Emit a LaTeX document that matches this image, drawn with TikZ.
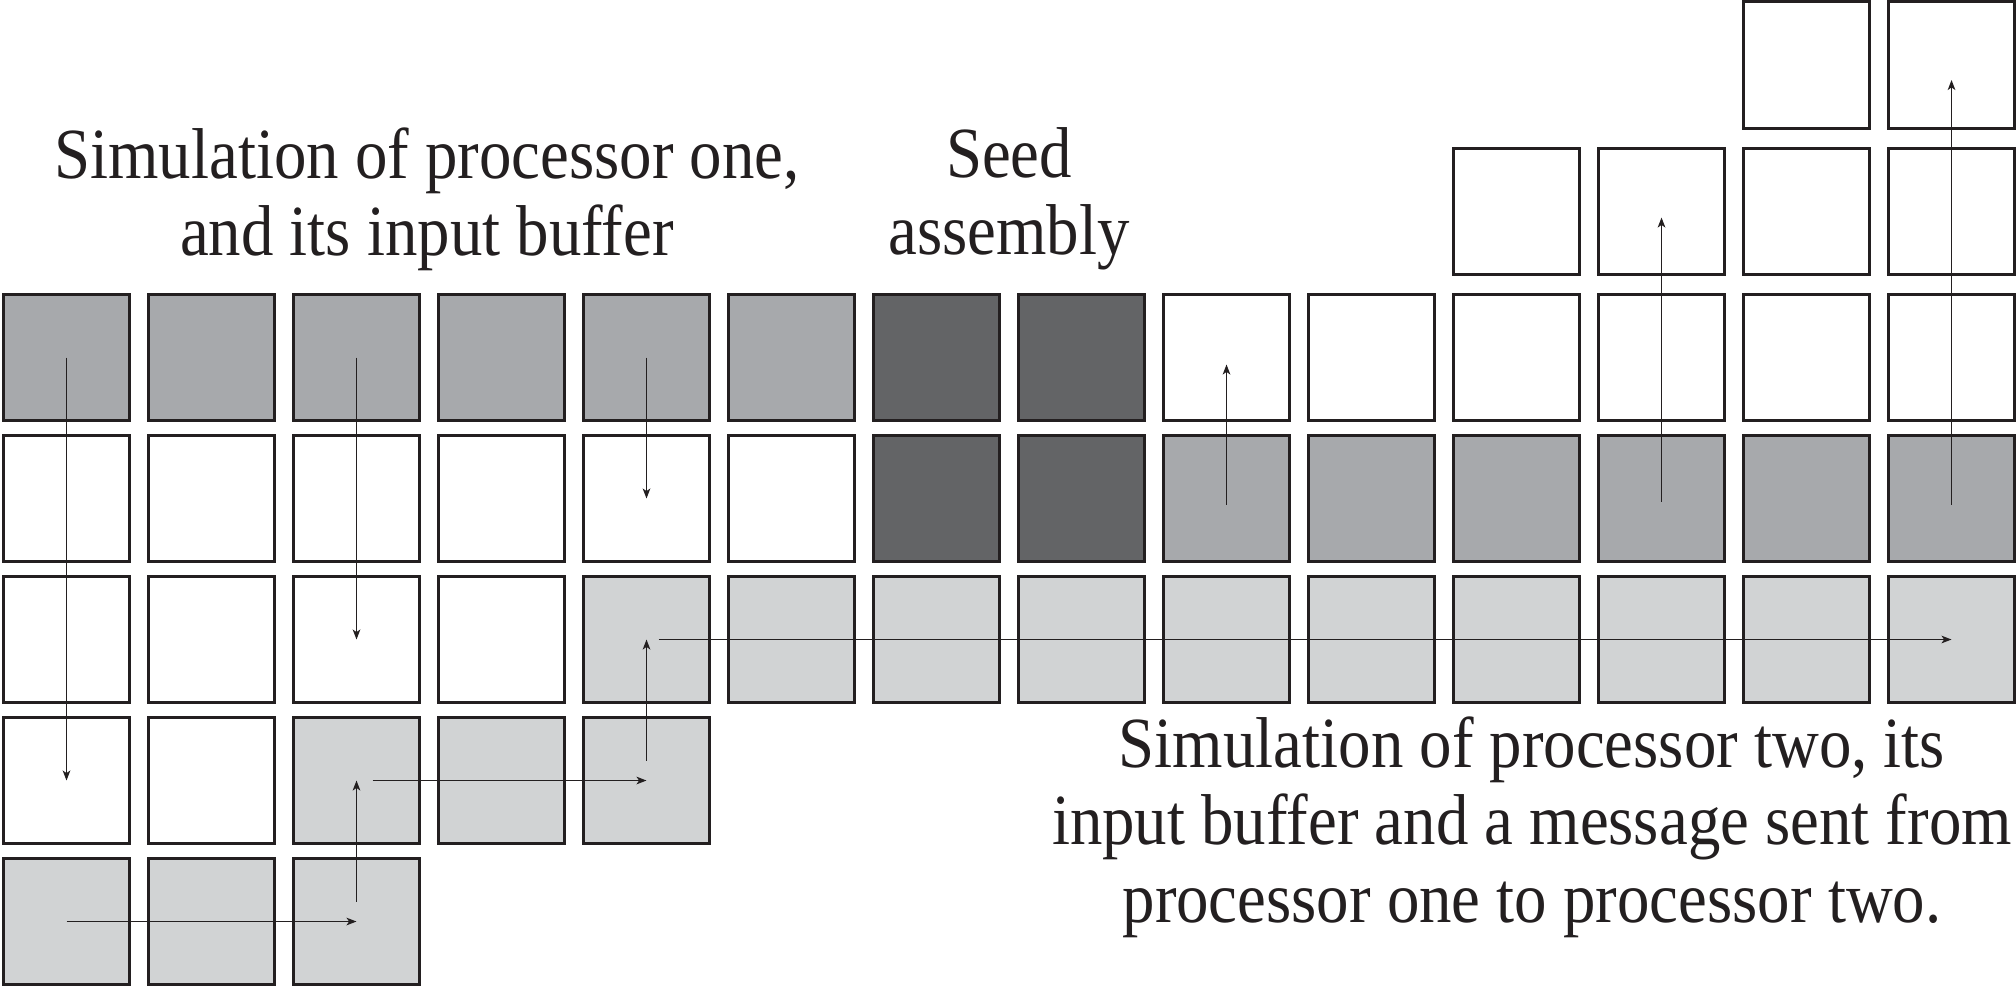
\documentclass[tikz,border=0pt]{standalone}
\usepackage{fontspec}
\setmainfont{Liberation Serif}[FakeStretch=0.9]
\usetikzlibrary{arrows.meta}

\definecolor{simgray}{RGB}{167,169,172}
\definecolor{msggray}{RGB}{209,211,212}
\definecolor{seedgray}{RGB}{99,100,102}
\definecolor{edge}{RGB}{35,31,32}

\tikzset{
  tile/.style={draw=edge, line width=1.35pt, minimum size=63.2pt, inner sep=0pt, fill=white},
  simtile/.style={tile, fill=simgray},
  seedtile/.style={tile, fill=seedgray},
  msgtile/.style={tile, fill=msggray},
  hop/.style={draw=edge, line width=0.7pt, -{Stealth[length=5pt,width=3.8pt,inset=1.3pt]}},
  note/.style={font=\fontsize{36pt}{38.75pt}\selectfont, text=edge, align=center, inner sep=0pt, anchor=north}
}

\begin{document}
\begin{tikzpicture}[x=0.5pt,y=0.5pt,yscale=-1]
\useasboundingbox (0,0) rectangle (2016,987);

% row a and b: empty tiles on the right
\foreach \i in {12,13} \node[tile] (a\i) at ({66.5+145*\i},65) {};
\foreach \i in {10,...,13} \node[tile] (b\i) at ({66.5+145*\i},211.5) {};

% row c: processor one, seed, empty
\foreach \i in {0,...,5} \node[simtile] (c\i) at ({66.5+145*\i},357.5) {};
\foreach \i in {6,7} \node[seedtile] (c\i) at ({66.5+145*\i},357.5) {};
\foreach \i in {8,...,13} \node[tile] (c\i) at ({66.5+145*\i},357.5) {};

% row d: empty, seed, processor two
\foreach \i in {0,...,5} \node[tile] (d\i) at ({66.5+145*\i},498.5) {};
\foreach \i in {6,7} \node[seedtile] (d\i) at ({66.5+145*\i},498.5) {};
\foreach \i in {8,...,13} \node[simtile] (d\i) at ({66.5+145*\i},498.5) {};

% row e, f, g: buffer and message
\foreach \i in {0,...,3} \node[tile] (e\i) at ({66.5+145*\i},639.5) {};
\foreach \i in {4,...,13} \node[msgtile] (e\i) at ({66.5+145*\i},639.5) {};
\foreach \i in {0,1} \node[tile] (f\i) at ({66.5+145*\i},780.5) {};
\foreach \i in {2,...,4} \node[msgtile] (f\i) at ({66.5+145*\i},780.5) {};
\foreach \i in {0,...,2} \node[msgtile] (g\i) at ({66.5+145*\i},921.5) {};

% processor one
\draw[hop] (c0.center) -- (f0.center);
\draw[hop] (c2.center) -- (e2.center);
\draw[hop] (c4.center) -- (d4.center);

% message path
\draw[hop] (g0.center) -- (g2.center);
\draw[hop, shorten <=10pt] (g2.center) -- (f2.center);
\draw[hop, shorten <=8pt] (f2.center) -- (f4.center);
\draw[hop, shorten <=10pt] (f4.center) -- (e4.center);
\draw[hop, shorten <=6pt] (e4.center) -- (e13.center);

% processor two
\draw[hop, shorten <=-3pt, shorten >=3.5pt] (d8.center) -- (c8.center);
\draw[hop, shorten <=-1.5pt, shorten >=3pt] (d11.center) -- (b11.center);
\draw[hop, shorten <=-3pt, shorten >=7.5pt] (d13.center) -- (a13.center);

% captions
\node[note] (one) at (427,127) {Simulation of processor one,\\and its input buffer};
\node[note] (seedtext) at (1009,127) {Seed\\assembly};
\node[note] (two) at (1532,716) {Simulation of processor two, its\\input buffer and a message sent from\\processor one to processor two.};
\end{tikzpicture}
\end{document}
